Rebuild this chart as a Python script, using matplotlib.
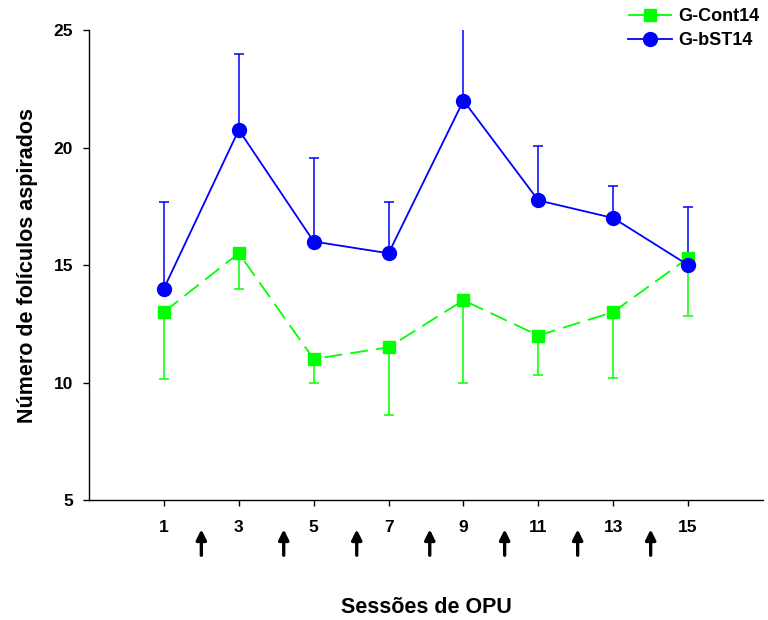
import numpy as np
import matplotlib.pyplot as plt

plt.rcParams['font.family'] = ['Liberation Sans', 'DejaVu Sans']
plt.rcParams['font.weight'] = 'bold'

sessions = [1, 3, 5, 7, 9, 11, 13, 15]
cont_mean = [13.0, 15.5, 11.0, 11.5, 13.5, 12.0, 13.0, 15.3]
cont_low = [10.15, 14.0, 10.0, 8.6, 10.0, 10.3, 10.2, 12.85]
bst_mean = [14.0, 20.75, 16.0, 15.5, 22.0, 17.75, 17.0, 15.0]
bst_high = [17.7, 24.0, 19.55, 17.7, 26.0, 20.05, 18.35, 17.45]
arrow_x = [2.0, 4.2, 6.15, 8.1, 10.1, 12.05, 14.0]

green = '#00ff00'
blue = '#0000ff'

fig = plt.figure(figsize=(7.68, 6.2), dpi=100)
ax = fig.add_axes([0.1159, 0.1935, 0.8776, 0.7581])

# one-sided error bars: stem + cap only at the far end
ax.vlines(sessions, cont_low, cont_mean, color=green, lw=1.1, zorder=2)
ax.plot(sessions, cont_low, ls='none', marker='_', ms=7.5, mew=1.1,
        color=green, zorder=2)
ax.vlines(sessions, bst_mean, bst_high, color=blue, lw=1.1, zorder=2)
ax.plot(sessions, bst_high, ls='none', marker='_', ms=7.5, mew=1.1,
        color=blue, zorder=2)

ax.plot(sessions, cont_mean, color=green, lw=1.3, ls=(0, (10, 4.5)),
        marker='s', ms=9, mec=green, mfc=green, zorder=3, label='G-Cont14')
ax.plot(sessions, bst_mean, color=blue, lw=1.3, ls='-',
        marker='o', ms=10, mec=blue, mfc=blue, zorder=4, label='G-bST14')

ax.set_xlim(-1, 17)
ax.set_ylim(5, 25)
ax.set_xticks(sessions)
ax.set_yticks([5, 10, 15, 20, 25])
ax.tick_params(axis='both', direction='out', length=4.5, width=1,
               labelsize=12.5)
ax.tick_params(axis='x', pad=10)
ax.tick_params(axis='y', pad=7)
for lab in ax.get_xticklabels() + ax.get_yticklabels():
    lab.set_fontweight('bold')

ax.spines['top'].set_visible(False)
ax.spines['right'].set_visible(False)
ax.spines['left'].set_linewidth(1)
ax.spines['bottom'].set_linewidth(1)

for xa in arrow_x:
    ax.annotate('', xy=(xa, 3.75), xytext=(xa, 2.65),
                xycoords='data', textcoords='data', annotation_clip=False,
                arrowprops=dict(arrowstyle='-|>', color='black', lw=2.4,
                                mutation_scale=15, shrinkA=0, shrinkB=0))

ax.set_ylabel('Número de folículos aspirados', fontsize=15.5, fontweight='bold')
ax.set_xlabel('Sessões de OPU', fontsize=15.5, fontweight='bold')
ax.yaxis.set_label_coords(-0.092, 0.5)
ax.xaxis.set_label_coords(0.5, -0.228)
ax.xaxis.label.set_va('center')
ax.yaxis.label.set_va('center')

ax.legend(loc='upper right', bbox_to_anchor=(1.0, 1.0),
          bbox_transform=fig.transFigure, frameon=False,
          prop={'weight': 'bold', 'size': 13}, handlelength=2.4,
          handletextpad=0.4, labelspacing=0.4, borderaxespad=0.05)

fig.savefig('out.png', dpi=100)
